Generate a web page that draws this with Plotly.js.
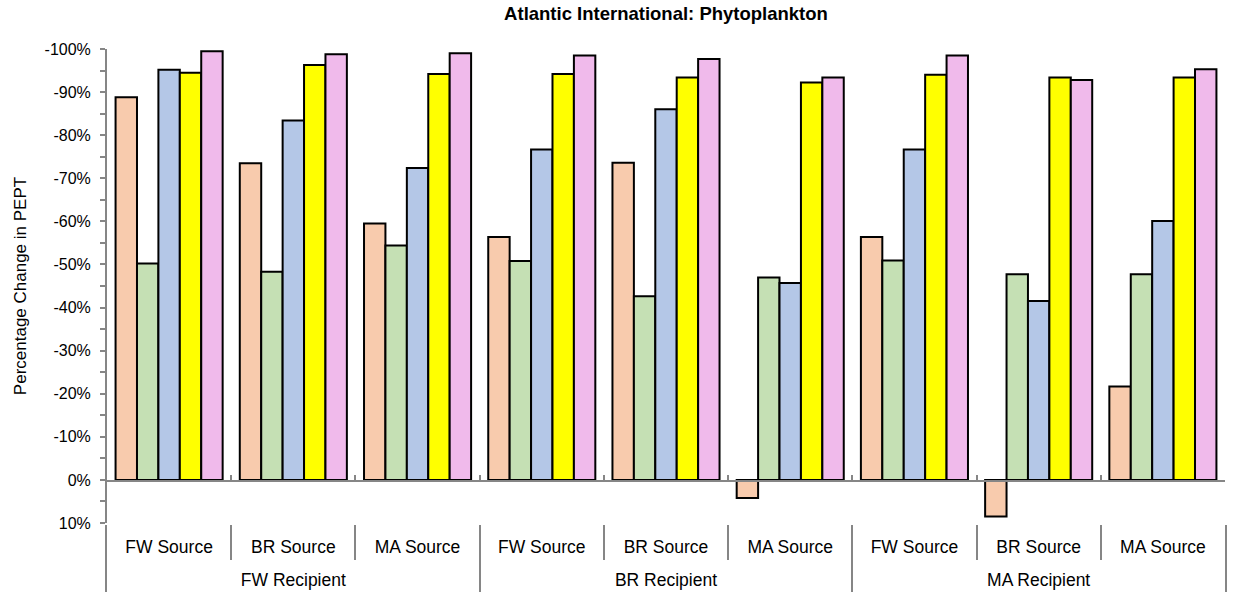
<!DOCTYPE html>
<html><head><meta charset="utf-8">
<script src="https://cdn.plot.ly/plotly-3.0.1.min.js"></script>
<style>body{margin:0;background:#fff}#chart{width:1233px;height:596px}</style>
</head><body><div id="chart"></div>
<script>
const recipients = ['FW Recipient', 'BR Recipient', 'MA Recipient'];
const sources = ['FW Source', 'BR Source', 'MA Source'];
const seriesNames = ['Series 1', 'Series 2', 'Series 3', 'Series 4', 'Series 5'];
const series1 = [-88.8, -73.5, -59.5, -56.4, -73.6, 4.2, -56.4, 8.5, -21.7];
const series2 = [-50.2, -48.3, -54.4, -50.8, -42.6, -47.0, -50.9, -47.7, -47.7];
const series3 = [-95.2, -83.4, -72.4, -76.7, -86.0, -45.7, -76.7, -41.5, -60.1];
const series4 = [-94.5, -96.3, -94.2, -94.2, -93.4, -92.2, -94.0, -93.4, -93.4];
const series5 = [-99.5, -98.8, -99.0, -98.5, -97.7, -93.4, -98.5, -92.8, -95.3];
const yTicks = [-100, -90, -80, -70, -60, -50, -40, -30, -20, -10, 0, 10];

const colors = ['#F8CBAD', '#C5E0B4', '#B4C7E7', '#FFFF00', '#F0BAEB'];
const allSeries = [series1, series2, series3, series4, series5];

// category structure
const outer = [], inner = [];
recipients.forEach(r => sources.forEach(s => { outer.push(r); inner.push(s); }));
const xCats = [outer, inner];
const n = inner.length;
const xRange = [-0.5, n - 0.5];
const centers = inner.map((_, i) => i);
const allBounds = [-0.5].concat(centers.map(i => i + 0.5));
const outerCenters = recipients.map((_, j) => j * sources.length + (sources.length - 1) / 2);
const outerBounds = [-0.5].concat(recipients.map((_, j) => (j + 1) * sources.length - 0.5));

const traces = allSeries.map((vals, i) => ({
  type: 'bar', name: seriesNames[i], x: xCats, y: vals,
  marker: {color: colors[i], line: {color: '#000', width: 2}},
  showlegend: false, hoverinfo: 'y'
}));
// invisible helper traces so that the decoration axes get drawn
const helper = (xa, ya, xs) => ({type: 'scatter', mode: 'markers', x: xs, y: xs.map(() => null),
  xaxis: xa, yaxis: ya, showlegend: false, hoverinfo: 'skip'});
traces.push(helper('x2', 'y4', allBounds));
traces.push(helper('x3', 'y', centers));
traces.push(helper('x4', 'y', outerCenters));
traces.push(helper('x5', 'y2', outerBounds));
traces.push(helper('x6', 'y3', allBounds));

const font = 'Liberation Sans, Arial, sans-serif';
const gray = '#868686';
const yMin = yTicks[0], yMax = yTicks[yTicks.length - 1];

// vertical layout (plot area fractions)
const T = 49, B = 4, H = 596 - T - B;
const frac = px => (596 - B - px) / H;       // pixel row -> fraction from bottom
const yDom0 = frac(523);
const zeroFrac = yDom0 + (yMax - 0) / (yMax - yMin) * (1 - yDom0);

const layout = {
  width: 1233, height: 596,
  margin: {l: 107, r: 8, t: T, b: B},
  paper_bgcolor: '#fff', plot_bgcolor: 'rgba(0,0,0,0)',
  font: {family: font, color: '#000'},
  title: {text: '<b>Atlantic International: Phytoplankton</b>', font: {size: 18.5, family: font},
          x: 0.5, xref: 'paper', xanchor: 'center', y: 1 - 14 / 596, yanchor: 'middle'},
  barmode: 'group', bargap: 0.138, bargroupgap: 0,
  xaxis: {
    type: 'multicategory', anchor: 'y', range: xRange,
    showline: false, showgrid: false, zeroline: false, ticks: '',
    showticklabels: false, showdividers: false
  },
  xaxis2: {
    anchor: 'y4', range: xRange, tickvals: allBounds,
    showline: true, linecolor: gray, linewidth: 2,
    ticks: 'inside', ticklen: 5, tickwidth: 2, tickcolor: gray,
    showticklabels: false, showgrid: false, zeroline: false
  },
  yaxis4: {domain: [zeroFrac, 1], anchor: 'x2', visible: false, range: [0, 1]},
  xaxis3: {
    anchor: 'y', overlaying: 'x', range: xRange, tickvals: centers, ticktext: inner,
    ticks: '', showline: false, showgrid: false, zeroline: false,
    ticklabelstandoff: 11, tickfont: {size: 17.5, family: font, color: '#000'}
  },
  xaxis4: {
    anchor: 'y', overlaying: 'x', range: xRange, tickvals: outerCenters, ticktext: recipients,
    ticks: '', showline: false, showgrid: false, zeroline: false,
    ticklabelstandoff: 44, tickfont: {size: 17.5, family: font, color: '#000'}
  },
  xaxis5: {
    anchor: 'y2', range: xRange, tickvals: outerBounds, showticklabels: false, ticks: '',
    showgrid: true, gridcolor: gray, gridwidth: 2, showline: false, zeroline: false
  },
  yaxis2: {
    domain: [0, frac(525)], anchor: 'x5', range: [0, 1],
    showline: true, mirror: true, linecolor: gray, linewidth: 2,
    showticklabels: false, ticks: '', showgrid: false, zeroline: false
  },
  xaxis6: {
    anchor: 'y3', range: xRange, tickvals: allBounds, showticklabels: false, ticks: '',
    showgrid: true, gridcolor: gray, gridwidth: 2, showline: false, zeroline: false
  },
  yaxis3: {domain: [frac(560), frac(525)], anchor: 'x6', visible: false, range: [0, 1]},
  yaxis: {
    domain: [yDom0, 1], anchor: 'x',
    range: [yMax, yMin], tickvals: yTicks, ticktext: yTicks.map(v => v + '%'),
    showgrid: false, zeroline: false,
    showline: true, linecolor: gray, linewidth: 2,
    ticks: 'outside', ticklen: 5, tickwidth: 2, tickcolor: gray,
    minor: {dtick: 5, tick0: 0, ticks: 'outside', ticklen: 5, tickwidth: 2, tickcolor: gray, showgrid: false},
    ticklabelstandoff: 6,
    tickfont: {size: 16, family: font, color: '#000'},
    title: {text: 'Percentage Change in PEPT', font: {size: 17, family: font, color: '#000'}, standoff: 14}
  }
};

Plotly.newPlot('chart', traces, layout, {displayModeBar: false, staticPlot: true});
</script>
</body></html>
